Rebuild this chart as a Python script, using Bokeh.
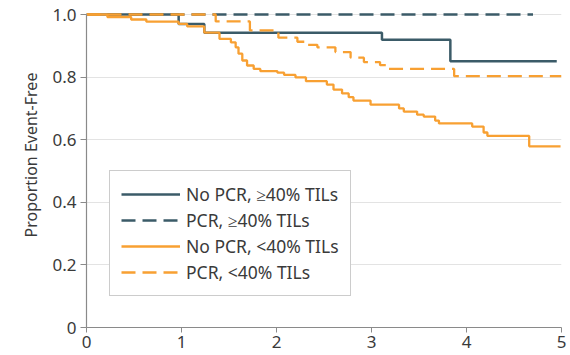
from bokeh.plotting import figure
from bokeh.models import Range1d, FixedTicker, Legend, LegendItem, Title
from bokeh.embed import file_html
from bokeh.resources import INLINE

# ---- data (years, proportion event-free) ----
nopcr_hi_t = [0, 0.97, 1.24, 3.11, 3.83]
nopcr_hi_s = [1.0, 0.970, 0.942, 0.919, 0.851]
nopcr_hi_end = 4.95

pcr_hi_t = [0]
pcr_hi_s = [1.0]
pcr_hi_end = 4.70

nopcr_lo_t = [0, 0.22, 0.47, 0.63, 0.97, 1.06, 1.24, 1.40, 1.52, 1.57, 1.60, 1.64,
              1.69, 1.76, 1.83, 2.01, 2.08, 2.20, 2.31, 2.53, 2.60, 2.69, 2.76,
              2.81, 2.99, 3.29, 3.34, 3.48, 3.55, 3.67, 3.71, 4.06, 4.18, 4.22, 4.66]
nopcr_lo_s = [1.0, 0.992, 0.984, 0.977, 0.970, 0.962, 0.942, 0.922, 0.911, 0.895,
              0.875, 0.853, 0.837, 0.826, 0.819, 0.814, 0.807, 0.799, 0.787, 0.776,
              0.760, 0.748, 0.736, 0.725, 0.712, 0.700, 0.690, 0.680, 0.674, 0.661,
              0.652, 0.642, 0.623, 0.612, 0.579]
nopcr_lo_end = 4.99

pcr_lo_t = [0, 1.36, 1.72, 2.02, 2.22, 2.31, 2.43, 2.62, 2.78, 2.92, 3.09, 3.165, 3.87]
pcr_lo_s = [1.0, 0.978, 0.949, 0.926, 0.913, 0.903, 0.895, 0.880, 0.862, 0.848,
            0.838, 0.826, 0.803]
pcr_lo_end = 5.0

labels = ["No PCR, \u226540% TILs", "PCR, \u226540% TILs",
          "No PCR, <40% TILs", "PCR, <40% TILs"]
y_title = "Proportion Event-Free"

x_ticks = [0, 1, 2, 3, 4, 5]
y_ticks = [0, 0.2, 0.4, 0.6, 0.8, 1.0]
y_tick_labels = ["0", "0.2", "0.4", "0.6", "0.8", "1.0"]

DARK = "#3b5b68"
ORANGE = "#f8a032"
FONT = "Noto Sans"
TXT = "#3a3a3a"

p = figure(width=570, height=355, output_backend="svg", toolbar_location=None,
           x_range=Range1d(0, 5), y_range=Range1d(0, 1.0128),
           min_border_left=86, min_border_right=9, min_border_top=10,
           min_border_bottom=28)
p.outline_line_color = None
p.background_fill_color = "white"

def ext(t, s, end):
    return list(t) + [end], list(s) + [s[-1]]

series = [
    (nopcr_hi_t, nopcr_hi_s, nopcr_hi_end, DARK, "solid", 2.5),
    (pcr_hi_t, pcr_hi_s, pcr_hi_end, DARK, "14 7", 2.5),
    (nopcr_lo_t, nopcr_lo_s, nopcr_lo_end, ORANGE, "solid", 2.3),
    (pcr_lo_t, pcr_lo_s, pcr_lo_end, ORANGE, "14 7", 2.3),
]
renderers = []
for t, s, end, col, dash, w in series:
    xs, ys = ext(t, s, end)
    r = p.step(xs, ys, mode="after", line_color=col, line_width=w, line_dash=dash)
    renderers.append(r)

# axes
p.xaxis.ticker = FixedTicker(ticks=x_ticks)
p.yaxis.ticker = FixedTicker(ticks=y_ticks)
p.yaxis.major_label_overrides = {v: l for v, l in zip(y_ticks, y_tick_labels)}
p.xaxis.bounds = (0, 5)
p.yaxis.bounds = (0, 1.0)
for ax in (p.xaxis, p.yaxis):
    ax.axis_line_color = "#8a8a8a"
    ax.axis_line_width = 1.2
    ax.major_tick_line_color = "#8a8a8a"
    ax.major_tick_out = 6
    ax.major_tick_in = 0
    ax.minor_tick_line_color = None
    ax.major_label_text_font = FONT
    ax.major_label_text_font_size = "17px"
    ax.major_label_text_color = TXT
p.xaxis.major_tick_out = 5
p.xaxis.major_label_standoff = 3
p.yaxis.major_label_standoff = 4

t = Title(text=y_title, align="left", offset=90, standoff=16,
          text_font=FONT, text_font_size="16px", text_font_style="normal",
          text_color=TXT)
p.add_layout(t, "left")

p.xgrid.grid_line_color = None
p.ygrid.grid_line_color = "#e3e3e3"
p.ygrid.grid_line_width = 1.2

legend = Legend(items=[LegendItem(label=l, renderers=[r]) for l, r in zip(labels, renderers)],
                location=(23, 31), orientation="vertical")
legend.border_line_color = "#9a9a9a"
legend.border_line_width = 1.2
legend.background_fill_color = "white"
legend.background_fill_alpha = 1.0
legend.label_text_font = FONT
legend.label_text_font_size = "17.5px"
legend.label_text_color = TXT
legend.glyph_width = 59
legend.glyph_height = 20
legend.label_height = 20
legend.label_standoff = 6
legend.spacing = 2
legend.padding = 11
legend.margin = 0
p.add_layout(legend, "center")

open("out.html", "w").write(file_html(p, INLINE))
